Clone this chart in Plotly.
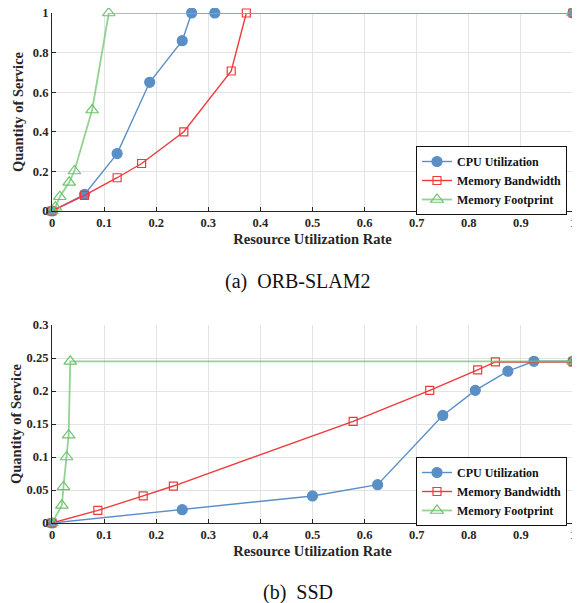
import plotly.graph_objects as go

# ORB-SLAM2 data
orb_cpu_x = [0, 0.0625, 0.125, 0.1875, 0.25, 0.268, 0.3125, 1.0]
orb_cpu_y = [0, 0.084, 0.29, 0.65, 0.86, 1.0, 1.0, 1.0]
orb_bw_x = [0, 0.0625, 0.125, 0.172, 0.253, 0.344, 0.373, 1.0]
orb_bw_y = [0, 0.079, 0.168, 0.24, 0.40, 0.707, 1.0, 1.0]
orb_fp_x = [0, 0.0064, 0.015, 0.033, 0.043, 0.077, 0.109, 1.0]
orb_fp_y = [0, 0.019, 0.072, 0.145, 0.202, 0.51, 1.0, 1.0]

# SSD data
ssd_cpu_x = [0, 0.25, 0.5, 0.625, 0.75, 0.8125, 0.875, 0.925, 1.0]
ssd_cpu_y = [0, 0.0202, 0.041, 0.058, 0.163, 0.201, 0.230, 0.245, 0.245]
ssd_bw_x = [0, 0.088, 0.175, 0.233, 0.578, 0.725, 0.817, 0.851, 1.0]
ssd_bw_y = [0, 0.0192, 0.041, 0.056, 0.154, 0.201, 0.232, 0.244, 0.244]
ssd_fp_x = [0, 0.019, 0.022, 0.028, 0.032, 0.035, 1.0]
ssd_fp_y = [0, 0.0268, 0.0546, 0.100, 0.133, 0.245, 0.245]

x_ticks = [0, 0.1, 0.2, 0.3, 0.4, 0.5, 0.6, 0.7, 0.8, 0.9, 1]
x_labels = ["0", "0.1", "0.2", "0.3", "0.4", "0.5", "0.6", "0.7", "0.8", "0.9", "1"]
orb_y_ticks = [0, 0.2, 0.4, 0.6, 0.8, 1]
orb_y_labels = ["0", "0.2", "0.4", "0.6", "0.8", "1"]
ssd_y_ticks = [0, 0.05, 0.1, 0.15, 0.2, 0.25, 0.3]
ssd_y_labels = ["0", "0.05", "0.1", "0.15", "0.2", "0.25", "0.3"]

names = ["CPU Utilization", "Memory Bandwidth", "Memory Footprint"]

BLUE = "#5a8fc6"
RED = "#f0393c"
GREEN_LINE = "rgba(110,196,110,0.75)"
GREEN = "#6cc46c"
FONT = "Liberation Serif"

fig = go.Figure()

def add_series(xs, ys, name, color, lcolor, lwidth, symbol, size, xa, ya, legend):
    fig.add_trace(go.Scatter(
        x=xs, y=ys, name=name, mode="lines+markers",
        line=dict(color=lcolor, width=lwidth),
        marker=dict(symbol=symbol, size=size, color=color,
                    line=dict(color=color, width=1.2)),
        xaxis=xa, yaxis=ya, legend=legend, cliponaxis=False))

for xa, ya, lg, data in [
    ("x", "y", "legend", [(orb_cpu_x, orb_cpu_y), (orb_bw_x, orb_bw_y), (orb_fp_x, orb_fp_y)]),
    ("x2", "y2", "legend2", [(ssd_cpu_x, ssd_cpu_y), (ssd_bw_x, ssd_bw_y), (ssd_fp_x, ssd_fp_y)]),
]:
    add_series(*data[0], names[0], BLUE, BLUE, 1.4, "circle", 10, xa, ya, lg)
    add_series(*data[1], names[1], RED, RED, 1.4, "square-open", 8, xa, ya, lg)
    add_series(*data[2], names[2], GREEN, GREEN_LINE, 1.8, "triangle-up-open", 11, xa, ya, lg)

# the page shows the figure offset by the browser's 8px body margin
OFF = 8
W, H = 580 - OFF, 603 - OFF

def px(v):
    return (v - OFF) / W

def py(v):
    return 1 - (v - OFF) / H

xdom = [px(52), px(573)]
top_dom = [py(211), py(13)]
bot_dom = [py(523), py(325)]

axis_common = dict(
    showline=True, linecolor="#262626", linewidth=1.2,
    ticks="inside", ticklen=4, tickcolor="#262626",
    showgrid=True, gridcolor="#e3e3e3", gridwidth=1,
    zeroline=False, mirror=False, automargin=False,
    ticklabeloverflow="allow",
    tickfont=dict(family=FONT, size=12.5, color="#262626", weight="bold"),
)
title_font = dict(family=FONT, size=14.5, color="#262626", weight="bold")

legend_common = dict(
    xanchor="left", yanchor="top",
    bgcolor="white", bordercolor="#111111", borderwidth=1,
    font=dict(family=FONT, size=12, color="#111111", weight="bold"),
    tracegroupgap=0, itemwidth=30,
)

fig.update_layout(
    width=W, height=H,
    margin=dict(l=0, r=0, t=0, b=0),
    paper_bgcolor="white", plot_bgcolor="white",
    font=dict(family=FONT),
    xaxis=dict(domain=xdom, anchor="y", range=[0, 1], tickvals=x_ticks, ticktext=x_labels,
               title=dict(text="Resource Utilization Rate", font=title_font, standoff=4), **axis_common),
    yaxis=dict(domain=top_dom, anchor="x", range=[0, 1], tickvals=orb_y_ticks, ticktext=orb_y_labels,
               title=dict(text="Quantity of Service", font=title_font, standoff=5), **axis_common),
    xaxis2=dict(domain=xdom, anchor="y2", range=[0, 1], tickvals=x_ticks, ticktext=x_labels,
                title=dict(text="Resource Utilization Rate", font=title_font, standoff=4), **axis_common),
    yaxis2=dict(domain=bot_dom, anchor="x2", range=[0, 0.3], tickvals=ssd_y_ticks, ticktext=ssd_y_labels,
                title=dict(text="Quantity of Service", font=title_font, standoff=5), **axis_common),
    legend=dict(x=px(416), y=py(146), **legend_common),
    legend2=dict(x=px(416), y=py(457), **legend_common),
    showlegend=True,
    annotations=[
        dict(text="(a)  ORB-SLAM2", x=px(298), y=py(282), xref="paper", yref="paper",
             showarrow=False, font=dict(family=FONT, size=20, color="#111111"),
             xanchor="center", yanchor="middle"),
        dict(text="(b)  SSD", x=px(298), y=py(592), xref="paper", yref="paper",
             showarrow=False, font=dict(family=FONT, size=20, color="#111111"),
             xanchor="center", yanchor="middle"),
    ],
)

fig.write_html("out.html")
